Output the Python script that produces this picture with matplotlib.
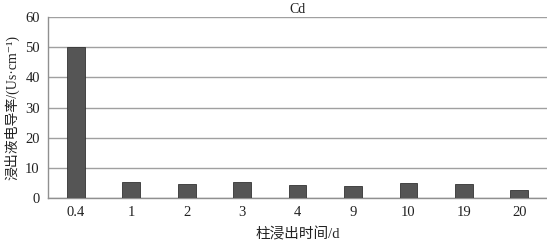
import matplotlib
matplotlib.use('Agg')
import matplotlib.pyplot as plt

categories = ['0.4', '1', '2', '3', '4', '9', '10', '19', '20']
conductivity = [50, 5.3, 4.8, 5.2, 4.2, 4.1, 4.9, 4.8, 2.7]
yticks = [0, 10, 20, 30, 40, 50, 60]

fonts = ['Liberation Serif', 'Noto Sans CJK SC', 'DejaVu Sans']
plt.rcParams['font.family'] = fonts

fig = plt.figure(figsize=(5.47, 2.43), dpi=100)
ax = fig.add_axes([0.088, 0.185, 0.912, 0.745])

x = range(len(categories))
ax.bar(x, conductivity, width=0.32, color='#555555', edgecolor='#333333', linewidth=0.6, zorder=3)

ax.set_xlim(-0.5, len(categories) - 0.5)
ax.set_ylim(0, 60)
ax.set_yticks(yticks)
ax.set_xticks(list(x))
ax.set_xticklabels(categories)
ax.yaxis.grid(True, color='#a0a0a0', linewidth=1.0, zorder=0)
ax.tick_params(axis='y', length=0, labelsize=10.5, pad=6, labelcolor='#222222')
ax.tick_params(axis='x', length=0, labelsize=10.5, pad=6, labelcolor='#222222')

for side in ['top', 'right']:
    ax.spines[side].set_visible(False)
for side in ['left', 'bottom']:
    ax.spines[side].set_color('#909090')
    ax.spines[side].set_linewidth(1.0)

ax.set_title('Cd', fontsize=10, pad=3, color='#222222')
ax.set_xlabel('柱浸出时间/d', fontsize=10.5, labelpad=6, color='#222222')
ax.set_ylabel('浸出液电导率/(Us·cm⁻¹)', fontsize=10, labelpad=4, color='#222222')

fig.savefig('out.png', dpi=100)
